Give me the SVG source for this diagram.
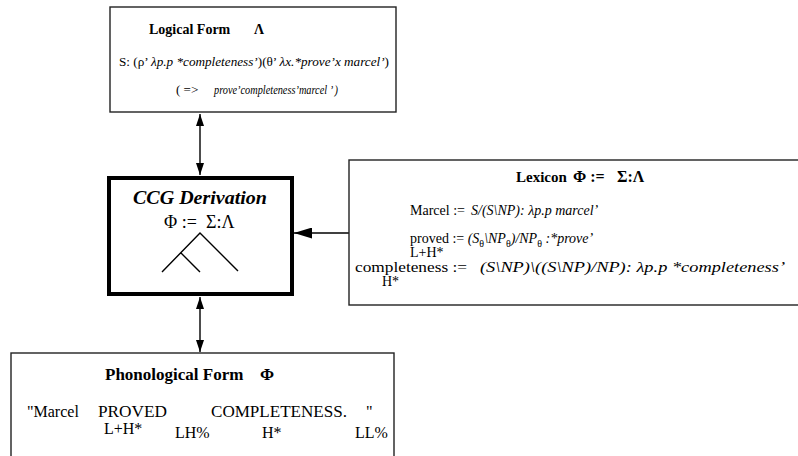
<svg xmlns="http://www.w3.org/2000/svg" width="798" height="456" viewBox="0 0 798 456">
<defs>
<marker id="ah" viewBox="0 0 12 8" refX="12" refY="4" markerWidth="12" markerHeight="8" markerUnits="userSpaceOnUse" orient="auto-start-reverse">
<path d="M0,0 L12,4 L0,8 z" fill="#000"/>
</marker>
<marker id="ahBig" viewBox="0 0 18 11" refX="18" refY="5.5" markerWidth="18" markerHeight="11" markerUnits="userSpaceOnUse" orient="auto">
<path d="M0,0 L18,5.5 L0,11 z" fill="#000"/>
</marker>
<style>
text{font-family:"Liberation Serif","Times New Roman",serif;fill:#000}
.box{fill:#fff;stroke:#222;stroke-width:1.4}
.b{font-weight:bold}
.it{font-style:italic}
.s12{font-size:12px}
.s13{font-size:13px}
.s14{font-size:14px}
.s15{font-size:15px}
.s16{font-size:16px}
.s17{font-size:17px}
.s18{font-size:18px}
.s19{font-size:19px}
.conn{stroke:#000;stroke-width:1.4;fill:none}
.sub{font-size:10px;font-style:normal}
</style>
</defs>

<g id="connectors">
<line class="conn" x1="200" y1="114" x2="200" y2="175" marker-start="url(#ah)" marker-end="url(#ah)"/>
<line class="conn" x1="200" y1="297" x2="200" y2="352" marker-start="url(#ah)" marker-end="url(#ah)"/>
<line class="conn" x1="349" y1="233" x2="294" y2="233" marker-end="url(#ahBig)"/>
</g>

<g id="logical-form">
<rect class="box" x="110" y="7" width="286" height="105"/>
<text class="b s14" x="149" y="34">Logical Form</text>
<text class="b s14" x="254" y="34">Λ</text>
<text class="s13" x="119" y="66" textLength="270" lengthAdjust="spacingAndGlyphs">S: (ρ’ <tspan class="it">λp.p *completeness’</tspan>)(θ’ <tspan class="it">λx.*prove’x  marcel’</tspan>)</text>
<text class="s13" x="176" y="94">( =&gt;</text>
<text class="s13 it" x="214" y="94" textLength="124" lengthAdjust="spacingAndGlyphs">prove’completeness’marcel ’ )</text>
</g>

<g id="ccg-derivation">
<rect x="109" y="178" width="183" height="116" fill="#fff" stroke="#000" stroke-width="4"/>
<text class="b it s19" x="133" y="204" textLength="134" lengthAdjust="spacingAndGlyphs">CCG Derivation</text>
<text class="s18" x="164" y="228">Φ :=</text>
<text class="s18" x="206" y="228">Σ:Λ</text>
<path class="conn" d="M162,272 L200,233 L238,271 M181,253 L200,272"/>
</g>

<g id="lexicon">
<rect class="box" x="349" y="160" width="460" height="145"/>
<text class="b s15" x="516" y="182">Lexicon</text>
<text class="b s16" x="573" y="182">Φ :=</text>
<text class="b s16" x="617" y="182">Σ:Λ</text>
<text class="s14" x="410" y="215">Marcel := </text>
<text class="s14 it" x="471" y="215">S/(S\NP): λp.p marcel’</text>
<text class="s14" x="410" y="243">proved := <tspan class="it">(S<tspan class="sub" dy="4">θ</tspan><tspan dy="-4">\NP</tspan><tspan class="sub" dy="4">θ</tspan><tspan dy="-4">)/NP</tspan><tspan class="sub" dy="4">θ</tspan><tspan dy="-4"> :*prove’</tspan></tspan></text>
<text class="s14" x="410" y="257">L+H*</text>
<text class="s15" x="355" y="272" textLength="112" lengthAdjust="spacingAndGlyphs">completeness :=</text>
<text class="s15 it" x="480" y="272" textLength="305" lengthAdjust="spacingAndGlyphs">(S\NP)\((S\NP)/NP): λp.p *completeness’</text>
<text class="s14" x="382" y="286">H*</text>
</g>

<g id="phonological-form">
<rect class="box" x="11" y="353" width="383" height="110"/>
<text class="b s17" x="105" y="380">Phonological Form</text>
<text class="b s17" x="260" y="380">Φ</text>
<text class="s16" x="27" y="417">"Marcel</text>
<text class="s16" x="98" y="417" textLength="69" lengthAdjust="spacingAndGlyphs">PROVED</text>
<text class="s16" x="211" y="417" textLength="136" lengthAdjust="spacingAndGlyphs">COMPLETENESS.</text>
<text class="s16" x="366" y="417">"</text>
<text class="s16" x="104" y="434">L+H*</text>
<text class="s16" x="175" y="438">LH%</text>
<text class="s16" x="262" y="438">H*</text>
<text class="s16" x="355" y="438">LL%</text>
</g>
</svg>
